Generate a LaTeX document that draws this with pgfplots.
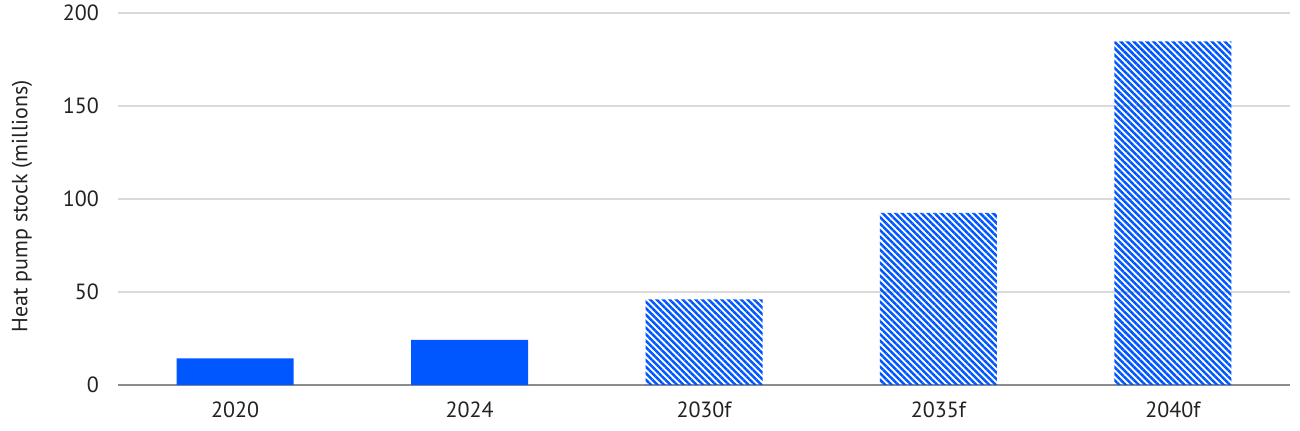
\documentclass[border=0pt]{standalone}
\usepackage{pgfplots}
\pgfplotsset{compat=1.18}
\usepackage{fontspec}
\setmainfont{PT Sans}
\usetikzlibrary{patterns.meta}
\definecolor{barblue}{HTML}{0057FF}
\definecolor{gridgray}{HTML}{D9D9D9}
\definecolor{axisgray}{HTML}{8C8C8C}
\definecolor{txt}{HTML}{222222}
\begin{document}
\begin{tikzpicture}
\begin{axis}[
  name=ax,
  scale only axis,
  width=586pt, height=186pt,
  ybar, bar width=58.5pt, bar shift=0pt,
  xmin=-0.5, xmax=4.5,
  ymin=0, ymax=200,
  xtick={0,1,2,3,4},
  xticklabels={2020,2024,2030f,2035f,2040f},
  ytick={0,50,100,150,200},
  ymajorgrids, grid style={gridgray, line width=0.6pt},
  axis x line*=bottom, axis y line*=left,
  y axis line style={draw=none},
  x axis line style={axisgray, line width=0.7pt, -},
  major tick length=0pt,
  tick style={draw=none},
  ylabel={Heat pump stock (millions)},
  ylabel style={at={(axis description cs:-0.082,0.48)}, anchor=center, font=\fontsize{11}{13}\selectfont, text=txt},
  ticklabel style={font=\fontsize{11}{13}\selectfont, text=txt},
  /pgf/number format/assume math mode=true,
  yticklabel style={xshift=-6pt},
  xticklabel style={yshift=-5pt},
  clip=false,
]
\addplot[fill=barblue, draw=none] coordinates {(0,14.3) (1,24.2)};
\addplot[draw=none, pattern={Lines[angle=-45, distance=2.3pt, line width=1.25pt]}, pattern color=barblue] coordinates {(2,46) (3,92.5) (4,184.7)};
\end{axis}
\pgfresetboundingbox
\path ([xshift=-59pt, yshift=-22.5pt]ax.south west) rectangle ([xshift=5pt, yshift=6.5pt]ax.north east);
\end{tikzpicture}
\end{document}
